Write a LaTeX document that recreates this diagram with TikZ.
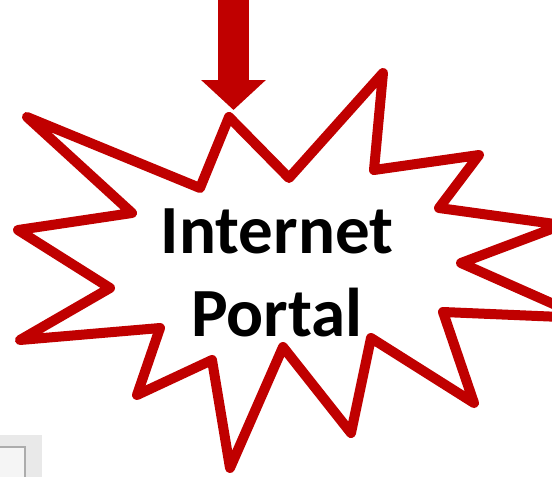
\documentclass[tikz,border=0pt]{standalone}
\usepackage{fontspec}
\setmainfont{Carlito}
\usetikzlibrary{arrows.meta}
\definecolor{burst}{HTML}{C00000}

\begin{document}
\begin{tikzpicture}[x=1pt,y=-1pt]

\useasboundingbox (0,0) rectangle (552,477);
\clip (0,0) rectangle (552,477);

\begin{scope}
\fill[gray!17] (0,435) rectangle (42,477);
\fill[gray!8] (0,447) rectangle (25,477);
\draw[gray!65, line width=1.5pt] (0,447) -- (25,447) -- (25,477);
\end{scope}

\begin{scope}[line width=10pt, line join=round, draw=burst]
\filldraw[fill=white] (229,117) -- (289,178) -- (383,73) -- (374,170) -- (479,155) -- (439,208)
  -- (562,225) -- (461,263) -- (585,318) -- (443,312) -- (474,403) -- (371,338)
  -- (351,433) -- (283,347) -- (230,468) -- (212,360) -- (137,395) -- (160,328)
  -- (20,340) -- (110,288) -- (18,230) -- (132,213) -- (27,117) -- (200,188) -- cycle;
\end{scope}

\coordinate (top) at (233.5,-5);
\coordinate (tip) at (233.5,110);
\draw[burst, line width=31pt, -{Triangle[length=30pt,width=63pt]}] (top) -- (tip);

\node[font=\fontsize{69}{83}\selectfont\bfseries, align=center] (portal) at (277,273) {Internet\\Portal};

\end{tikzpicture}
\end{document}
